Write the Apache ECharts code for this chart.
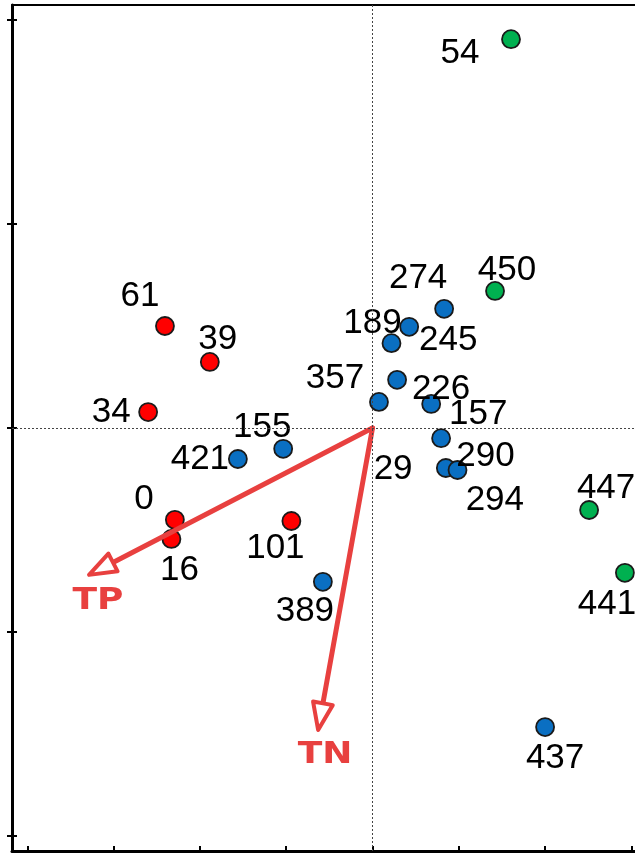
<!DOCTYPE html>
<html>
<head>
<meta charset="utf-8">
<script src="https://cdn.jsdelivr.net/npm/echarts@6/dist/echarts.min.js"></script>
<style>
  html, body { margin: 0; padding: 0; background: #fff; }
  #chart { width: 635px; height: 854px; }
</style>
</head>
<body>
<div id="chart"></div>
<script>
// Site scores on ordination axes 1 (x) and 2 (y), one group per cluster
const redNames = ['61', '39', '34', '0', '16', '101'];
const redX = [-0.481, -0.377, -0.520, -0.458, -0.466, -0.188];
const redY = [0.250, 0.162, 0.039, -0.225, -0.272, -0.228];

const blueNames = ['155', '421', '389', '274', '245', '189', '226', '357', '157', '29', '294', '290', '437'];
const blueX = [-0.207, -0.312, -0.115, 0.166, 0.085, 0.044, 0.057, 0.015, 0.136, 0.159, 0.170, 0.197, 0.400];
const blueY = [-0.051, -0.076, -0.377, 0.292, 0.248, 0.208, 0.118, 0.064, 0.059, -0.025, -0.098, -0.103, -0.733];

const greenNames = ['54', '450', '447', '441'];
const greenX = [0.321, 0.284, 0.502, 0.585];
const greenY = [0.953, 0.336, -0.201, -0.355];

// Environmental variable vectors (arrow tips)
const envNames = ['TP', 'TN'];
const envX = [-0.657, -0.126];
const envY = [-0.360, -0.740];

// Tick positions
const xTicks = [-0.8, -0.6, -0.4, -0.2, 0, 0.2, 0.4, 0.6, 0.8];
const yTicks = [-1, -0.5, 0, 0.5, 1];

// Label placement around each point (pixels from the marker centre)
const labelOffset = {
  '61': [-25, -30], '39': [8, -23], '34': [-37, 0], '0': [-31, -20], '16': [8, 31], '101': [-16, 27],
  '155': [-21, -21], '421': [-38, 0], '389': [-18, 30], '274': [-26, -31], '245': [39, 14],
  '189': [-19, -20], '226': [44, 9], '357': [-44, -24], '157': [47, 10], '29': [-48, 31],
  '294': [49, 32], '290': [28, -14], '437': [10, 31],
  '54': [-51, 14], '450': [12, -21], '447': [17, -22], '441': [-18, 32]
};
const envLabelOffset = { 'TP': [9, 26], 'TN': [7, 25] };

const X_LIM = 0.8355;
const Y_LIM = 1.0368;
const ARROW = '#e8403f';

function points(names, xs, ys) {
  return names.map((n, i) => ({
    name: n,
    value: [xs[i], ys[i]],
    label: { offset: labelOffset[n] || [0, 0] }
  }));
}

function groupSeries(names, xs, ys, color) {
  return {
    type: 'scatter',
    z: 3,
    symbol: 'circle',
    symbolSize: 18,
    itemStyle: { color: color, borderColor: '#1a1a1a', borderWidth: 1.8, opacity: 1 },
    label: {
      show: true,
      position: 'inside',
      formatter: '{b}',
      color: '#000',
      fontSize: 35,
      fontFamily: 'Liberation Sans, Arial, sans-serif'
    },
    emphasis: { disabled: true },
    data: points(names, xs, ys)
  };
}

const chart = echarts.init(document.getElementById('chart'), null, { renderer: 'canvas' });

chart.setOption({
  animation: false,
  backgroundColor: '#fff',
  grid: { left: 12, top: 5, width: 721, height: 846, containLabel: false, outerBoundsMode: 'none' },
  xAxis: [
    {
      type: 'value', min: -X_LIM, max: X_LIM, position: 'bottom',
      axisLine: { show: true, onZero: false, lineStyle: { color: '#000', width: 3 } },
      axisTick: { show: true, inside: true, length: 5, lineStyle: { color: '#000', width: 2 }, customValues: xTicks },
      axisLabel: { show: false },
      splitLine: { show: false }
    },
    {
      type: 'value', min: -X_LIM, max: X_LIM, position: 'top',
      axisLine: { show: true, onZero: false, lineStyle: { color: '#000', width: 2 } },
      axisTick: { show: false },
      axisLabel: { show: false },
      splitLine: { show: false }
    }
  ],
  yAxis: [
    {
      type: 'value', min: -Y_LIM, max: Y_LIM, position: 'left',
      axisLine: { show: true, onZero: false, lineStyle: { color: '#000', width: 3 } },
      axisTick: { show: true, inside: false, length: 5, lineStyle: { color: '#000', width: 2 }, customValues: yTicks },
      axisLabel: { show: false },
      splitLine: { show: false }
    },
    {
      type: 'value', min: -Y_LIM, max: Y_LIM, position: 'left',
      axisLine: { show: false, onZero: false },
      axisTick: { show: true, inside: true, length: 5, lineStyle: { color: '#000', width: 2 }, customValues: yTicks },
      axisLabel: { show: false },
      splitLine: { show: false }
    }
  ],
  series: [
    // Dotted reference lines through the origin
    {
      type: 'scatter',
      z: 1,
      data: [],
      markLine: {
        silent: true,
        symbol: ['none', 'none'],
        label: { show: false },
        lineStyle: { color: '#444', width: 1, type: [2, 2] },
        data: [{ xAxis: 0 }, { yAxis: 0 }]
      }
    },
    groupSeries(redNames, redX, redY, '#ff0000'),
    groupSeries(blueNames, blueX, blueY, '#0a6fc2'),
    groupSeries(greenNames, greenX, greenY, '#00b050'),
    // Environmental vectors drawn from the origin
    {
      type: 'custom',
      z: 4,
      silent: true,
      data: envNames.map((n, i) => [envX[i], envY[i]]),
      renderItem: function (params, api) {
        const name = envNames[params.dataIndex];
        const o = api.coord([0, 0]);
        const t = api.coord([api.value(0), api.value(1)]);
        const dx = t[0] - o[0], dy = t[1] - o[1];
        const len = Math.sqrt(dx * dx + dy * dy);
        const ux = dx / len, uy = dy / len;
        const nx = -uy, ny = ux;
        const hl = 27, hw = 10;
        const bx = t[0] - ux * hl, by = t[1] - uy * hl;
        const off = envLabelOffset[name];
        return {
          type: 'group',
          children: [
            {
              type: 'line',
              shape: { x1: o[0], y1: o[1], x2: bx, y2: by },
              style: { stroke: ARROW, lineWidth: 5, lineCap: 'round' }
            },
            {
              type: 'polygon',
              shape: { points: [[t[0], t[1]], [bx + nx * hw, by + ny * hw], [bx - nx * hw, by - ny * hw]] },
              style: { stroke: ARROW, lineWidth: 4, fill: '#fff', lineJoin: 'round' }
            },
            {
              type: 'text',
              x: t[0] + off[0],
              y: t[1] + off[1],
              scaleX: 1.2,
              style: {
                text: name,
                fill: ARROW,
                font: 'bold 30px "DejaVu Sans", sans-serif',
                align: 'center',
                verticalAlign: 'middle'
              }
            }
          ]
        };
      }
    }
  ]
});
</script>
</body>
</html>
